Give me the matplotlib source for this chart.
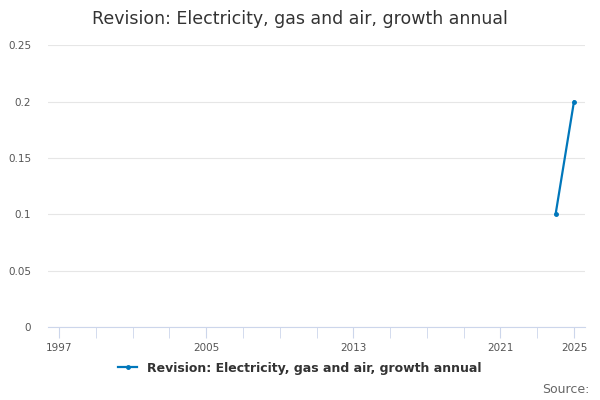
import matplotlib.pyplot as plt

years = [2024, 2025]
values = [0.1, 0.2]
series_name = "Revision: Electricity, gas and air, growth annual"
title = "Revision: Electricity, gas and air, growth annual"
y_ticks = [0, 0.05, 0.1, 0.15, 0.2, 0.25]
y_labels = ["0", "0.05", "0.1", "0.15", "0.2", "0.25"]
x_labels = [1997, 2005, 2013, 2021, 2025]

fig = plt.figure(figsize=(6, 4), dpi=100)
ax = fig.add_axes([0.08, 0.182, 0.895, 0.705])

ax.plot(years, values, color="#0077bb", linewidth=1.6, marker="o", markersize=2.5, label=series_name)

ax.set_ylim(0, 0.25)
ax.set_yticks(y_ticks)
ax.set_yticklabels(y_labels)
ax.set_xlim(1996.4, 2025.6)
ax.set_xticks(x_labels)
ax.set_xticks(range(1997, 2026, 2), minor=True)
ax.grid(axis="y", color="#e6e6e6", linewidth=0.8)
ax.set_axisbelow(True)
for s in ["top", "right", "left"]:
    ax.spines[s].set_visible(False)
ax.spines["bottom"].set_color("#ccd6eb")
ax.tick_params(axis="y", length=0, labelsize=7.5, labelcolor="#555555", pad=12)
ax.tick_params(axis="x", which="both", length=8, color="#ccd6eb", labelsize=7.5, labelcolor="#555555")

fig.suptitle(title, x=0.5, y=0.975, fontsize=12.5, color="#333333")
fig.legend(loc="lower center", bbox_to_anchor=(0.5, 0.035), frameon=False,
           prop={"size": 9, "weight": "bold"}, labelcolor="#333333", handlelength=1.5)
fig.text(0.982, 0.01, "Source:", ha="right", va="bottom", fontsize=9, color="#666666")

fig.savefig("out.png", dpi=100)
